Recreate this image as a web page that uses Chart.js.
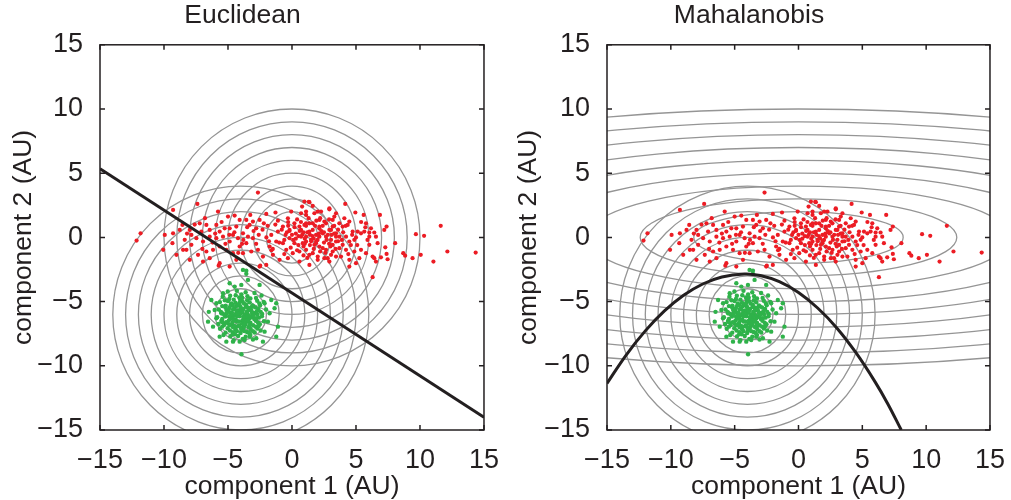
<!DOCTYPE html>
<html>
<head>
<meta charset="utf-8">
<script src="https://cdn.jsdelivr.net/npm/chart.js@4.4.0/dist/chart.umd.min.js"></script>
<style>
body { margin:0; background:#fff; }
#wrap { display:flex; width:1011px; height:500px; }
#wrap div { position:relative; height:500px; }
</style>
</head>
<body>
<div id="wrap">
<div style="width:505px"><canvas id="euclid"></canvas></div>
<div style="width:506px"><canvas id="mahal"></canvas></div>
</div>
<script>
// tick values on both axes
const axisTicks = [-15, -10, -5, 0, 5, 10, 15];

// class 1 (red)
const redPoints = [
[-2.66,3.49],[-7.39,2.61],[-9.29,2.14],[-11.83,0.32],[-12.14,-0.25],[0.97,2.79],[1.36,2.74],[1.62,2.45],[0.79,2.40],[1.10,2.01],
[0.71,1.88],[2.01,2.01],[2.92,2.27],[3.18,1.36],[-1.29,1.94],[-2.01,1.83],[-0.06,2.01],[-0.32,1.49],[-5.78,2.01],[-5.0,1.62],
[-4.48,1.70],[-4.09,1.36],[-3.26,1.75],[-3.57,1.36],[-3.05,1.23],[-2.53,1.36],[-3.31,0.97],[-2.79,0.71],[-8.56,0.97],[-8.77,0.58],
[-7.99,0.58],[-9.29,0.32],[-9.94,0.19],[-8.38,-0.19],[-7.86,0.19],[-7.21,1.10],[-6.69,0.97],[-7.08,0.45],[-6.43,0.58],[-5.91,0.97],
[-5.65,0.45],[-5.26,0.71],[-4.87,0.71],[-4.35,0.84],[-4.61,0.19],[-4.22,-0.06],[-3.83,0.32],[-3.44,0.06],[-3.05,-0.06],[-3.57,-0.45],
[-4.09,-0.71],[-4.87,-0.32],[-5.39,0.06],[-5.91,-0.06],[-6.43,0.06],[-6.95,-0.32],[-7.47,-0.06],[-7.86,-0.58],[-8.51,-0.97],[-9.34,-0.45],
[-10.06,-0.97],[-9.03,-1.36],[-8.25,-0.97],[-6.69,-1.10],[-6.17,-0.97],[-5.65,-0.71],[-5.13,-0.97],[-4.61,-1.23],[-3.83,-1.23],[-3.18,-1.10],
[-2.66,-0.97],[-2.27,-1.49],[-1.75,-0.71],[-1.23,-0.32],[-0.71,-0.45],[-0.19,-0.06],[-1.62,0.19],[-1.10,0.45],[-0.71,0.84],[-0.19,0.58],
[0.19,1.10],[0.58,0.84],[0.97,0.97],[1.36,1.10],[1.62,0.58],[2.14,0.84],[2.66,1.10],[3.05,0.58],[3.44,0.06],[2.14,0.06],
[1.88,-0.45],[1.10,-0.32],[0.71,0.06],[0.19,-0.45],[-0.45,-0.97],[0.06,-1.23],[0.58,-1.10],[1.10,-0.97],[1.62,-1.23],[2.40,-0.84],
[3.18,-0.58],[3.44,-1.49],[2.79,-1.62],[2.01,-1.75],[1.36,-2.14],[0.58,-1.88],[-0.32,-1.62],[-0.97,-1.75],[-1.49,-1.36],[-2.01,-2.14],
[-2.53,-2.27],[-4.35,-1.75],[-4.87,-2.27],[-5.65,-2.01],[-6.43,-1.62],[-6.95,-1.88],[-7.34,-1.36],[-7.99,-1.75],
[11.62,0.90],[12.14,-1.10],[14.35,-1.18],[11.05,-1.88],[10.32,0.12],[9.68,0.25],[10.06,-1.36],[9.42,-1.62],[8.84,-1.42],[8.69,-1.23],
[8.06,-0.45],[7.47,-1.70],[7.39,-1.29],[7.29,-0.77],[7.39,0.84],[7.21,0.58],[6.87,1.75],[6.43,0.38],[6.56,0.06],[6.04,0.06],
[6.04,0.38],[6.17,0.71],[5.73,0.79],[5.65,0.45],[5.78,1.10],[5.60,1.75],[4.95,1.94],[4.16,2.61],[3.44,1.88],[2.92,2.19],
[2.27,2.01],[1.31,2.77],[1.75,1.88],[1.10,1.75],[4.48,1.23],[4.35,0.97],[3.96,0.84],[3.70,1.10],[3.18,0.84],[2.92,0.58],
[3.44,0.32],[3.70,0.06],[4.22,0.06],[4.74,0.45],[5.13,0.45],[5.39,0.32],[4.87,-0.19],[4.48,-0.32],[3.96,-0.58],[3.44,-0.32],
[3.05,-0.19],[2.66,0.06],[2.40,0.32],[2.14,0.71],[1.62,1.10],[1.88,0.19],[1.36,0.45],[1.10,0.06],[1.49,-0.19],[1.75,-0.58],
[2.14,-0.71],[2.66,-0.97],[3.18,-1.10],[3.70,-0.84],[4.22,-0.97],[4.87,-1.10],[5.39,-0.97],[6.04,-0.58],[6.69,-0.45],[6.30,-1.49],
[5.78,-1.23],[5.26,-1.62],[4.48,-1.75],[3.83,-1.49],[3.05,-1.36],[2.53,-1.62],[2.01,-1.49],[1.36,-1.36],[0.84,-0.45],[0.71,0.58],
[6.43,-1.62],[6.56,-1.88],[6.95,-1.55],[4.48,-2.27],[5.0,-2.01],[2.92,-1.88],[2.14,1.36],[2.53,1.23],[3.31,1.62],[1.10,1.10],
[4.09,1.49],[6.3,-3.1],[-5.73,-2.2],[-2.48,-2.2],
[-0.5,0.2],[-0.2,0.5],[0.1,-0.2],[0.3,0.3],[0.5,-0.6],[0.8,0.2],[1.0,-0.1],[1.2,0.4],[1.4,-0.6],[1.6,0.1],
[1.8,0.9],[2.0,-0.2],[2.3,0.5],[2.5,-0.4],[2.8,0.2],[3.0,-0.7],[3.3,0.9],[-1.0,-0.4],[-0.8,0.6],[-1.3,1.0],
[-0.3,1.2],[0.4,1.4],[0.9,-1.4],[1.7,-0.9],[2.2,1.5],[2.6,-1.2],[-1.5,-0.9],[-0.6,-1.3],[0.2,0.8],[0.6,0.5],
[1.1,0.9],[1.5,-0.3],[2.1,0.3],[-0.1,-0.8],[-2.0,0.0],[-2.3,0.6],[-1.8,-0.3],[3.6,-0.3],[4.0,0.4],[4.6,-0.6],
[5.0,0.0],[-3.0,0.5],[-3.8,-0.2],[-4.5,0.4],[-5.2,-0.5],[-6.0,0.3],
[-2.8,-0.5],[-2.2,1.1],[-1.6,-1.0],[-1.1,1.3],[-0.6,-0.2],[-0.3,0.9],[0.0,0.2],[0.4,-1.0],[0.7,1.2],[0.9,-0.7],
[1.2,-1.6],[1.3,1.5],[1.7,-0.1],[1.9,1.3],[2.2,-1.1],[2.4,0.9],[2.7,-0.2],[2.9,1.4],[3.1,0.2],[3.4,-0.9],
[3.6,0.6],[3.9,-0.2],[4.2,0.9],[4.4,-1.3],[4.7,0.2],[5.1,-0.6],[5.4,1.2],[5.9,-0.2],[0.3,-0.1],[0.9,0.4],
[1.4,0.2],[1.9,-0.3],[2.5,0.4],[0.5,0.1],[-0.4,0.4],[1.0,-0.5],[2.9,-0.5],[3.3,0.3],[-1.9,0.9],[-2.6,0.2],
[-3.5,0.8],[-4.2,-1.2],[-5.5,1.2],[-6.2,-0.4],[-7.0,-0.9],[-7.6,1.0],[-8.2,0.3],[-3.9,-0.5],[-4.9,0.2],[-6.8,1.5]
];

// class 2 (green)
const greenPoints = [
[-3.83,-2.53],[-3.57,-2.84],[-4.87,-3.57],[-4.48,-3.83],[-3.96,-3.70],[-2.53,-3.70],[-3.44,-3.31],[-5.39,-4.35],[-6.30,-4.87],[-5.91,-5.13],
[-2.14,-5.13],[-1.62,-4.87],[-1.23,-5.13],[-1.36,-5.52],[-1.75,-5.91],[-1.88,-6.56],[-1.10,-6.95],[-2.14,-7.34],[-2.27,-8.12],[-2.79,-7.86],
[-3.31,-7.73],[-3.70,-7.99],[-4.09,-8.12],[-4.61,-8.12],[-5.13,-8.12],[-3.95,-9.1],[-5.65,-7.73],[-6.17,-6.95],[-5.91,-6.30],[-6.04,-5.65],
[-5.52,-5.91],[-1.23,-7.73],[-6.56,-6.56],[-6.5,-5.8],[-3.57,-2.59],
[-5.02,-4.21],[-4.31,-4.15],[-3.62,-4.27],[-2.93,-4.33],[-5.41,-4.62],[-4.83,-4.55],[-4.12,-4.68],[-3.48,-4.58],[-2.81,-4.71],[-2.38,-4.52],
[-5.63,-5.04],[-5.01,-4.95],[-4.42,-5.08],[-3.87,-4.97],[-3.31,-5.06],[-2.72,-4.93],[-2.21,-5.02],[-5.18,-5.31],[-4.63,-5.27],[-4.05,-5.36],
[-3.58,-5.24],[-3.02,-5.38],[-2.49,-5.29],[-5.72,-5.61],[-5.12,-5.66],[-4.51,-5.55],[-4.18,-5.68],[-3.79,-5.58],[-3.21,-5.64],[-2.62,-5.57],
[-2.03,-5.62],[-5.43,-5.92],[-4.81,-5.88],[-4.39,-5.97],[-3.92,-5.86],[-3.48,-5.95],[-2.91,-5.89],[-2.33,-5.96],[-5.84,-6.21],[-5.21,-6.17],
[-4.62,-6.26],[-4.09,-6.14],[-3.68,-6.23],[-3.12,-6.18],[-2.58,-6.25],[-5.52,-6.51],[-4.93,-6.46],[-4.31,-6.55],[-3.88,-6.48],[-3.41,-6.57],
[-2.83,-6.49],[-2.19,-6.53],[-5.31,-6.82],[-4.72,-6.77],[-4.11,-6.86],[-3.63,-6.79],[-3.04,-6.84],[-2.51,-6.76],[-5.62,-7.12],[-5.03,-7.08],
[-4.41,-7.15],[-3.82,-7.06],[-3.23,-7.13],[-2.71,-7.09],[-5.19,-7.42],[-4.61,-7.38],[-4.02,-7.45],[-3.51,-7.37],[-2.92,-7.41],[-4.82,-7.71],
[-4.21,-7.68],[-3.62,-7.74],[-4.2,-5.8],[-3.7,-6.0],[-4.4,-6.4],[-3.9,-6.7],[-4.7,-6.0],[-3.3,-6.3],[-4.0,-5.5],[-4.5,-6.9],
[-3.6,-5.4],[-4.9,-5.5],[-3.1,-5.9],[-4.3,-7.3],[-3.4,-7.0],[-5.0,-6.7],[-2.7,-6.0],[-4.8,-6.3],[-3.8,-6.4],[-4.1,-5.1],
[-3.5,-4.9],[-5.3,-6.0],[-4.55,-4.85],[-3.95,-4.45],[-3.25,-4.75],[-5.25,-4.9],[-2.55,-5.15],[-4.75,-5.15],[-3.45,-5.45],[-2.85,-5.45],
[-5.45,-5.35],[-4.35,-5.35],[-3.15,-5.75],[-2.45,-5.8],[-5.55,-5.8],[-4.95,-5.75],[-4.05,-5.95],[-3.35,-6.1],[-2.35,-6.15],[-5.45,-6.35],
[-4.45,-6.05],[-3.55,-6.35],[-2.95,-6.35],[-5.15,-6.6],[-4.65,-6.65],[-3.25,-6.65],[-2.65,-6.65],[-5.45,-6.95],[-4.35,-6.95],[-3.75,-6.95],
[-2.85,-6.95],[-4.85,-7.25],[-3.95,-7.25],[-3.05,-7.3],[-2.45,-7.25],[-5.35,-7.6],[-4.45,-7.55],[-3.25,-7.6],[-3.85,-7.9],[-4.55,-8.0],
[-3.05,-7.95],[-5.75,-6.75],
[-4.25,-5.25],[-3.75,-5.15],[-4.6,-5.6],[-3.4,-5.65],[-4.3,-6.15],[-3.6,-6.15],[-4.15,-6.55],[-3.65,-6.6],[-4.9,-6.15],[-3.0,-6.05],
[-4.6,-7.0],[-3.3,-6.85],[-4.8,-5.3],[-3.1,-5.3],[-5.1,-5.95],[-2.8,-6.3],[-4.0,-7.05],[-4.05,-4.85],[-3.7,-7.3],[-4.4,-4.5],
[-3.9,-5.75],[-4.25,-5.95],[-3.8,-6.2],[-4.55,-6.45],[-3.45,-6.45],[-4.15,-6.9],[-3.25,-5.5],[-4.7,-5.85],[-3.55,-5.8],[-4.85,-6.85],
[-5.2,-5.45],[-2.75,-5.75],[-3.9,-4.7],[-4.65,-7.55],[-3.35,-7.45],[-2.6,-6.9],[-5.45,-6.6],[-4.35,-5.7],[-3.75,-6.8],[-4.9,-4.8]
];

// contour radii (data units) and centres
const circleRadii = [2, 3, 4, 5, 6, 7, 8, 9, 10];
const redCenter = [0, 0];
const greenCenter = [-4, -6];
const ellipseRy = [2, 3, 4, 5, 6, 7, 8, 9, 10];
const ellipseRx = [8.2, 12.4, 16.6, 21, 25.3, 29.6, 34, 38.5, 43];

// decision boundaries
const euclidLineX = [-15, 15];
const euclidLineY = [5.35, -14.0];
const mahalCurveX = [-15, -13.5, -12, -10.5, -9, -7.5, -6, -4.25, -3, -1.5, 0, 1.5, 3, 4.5, 6, 7, 8.05];
const mahalCurveY = [-11.37, -9.16, -7.28, -5.73, -4.51, -3.63, -3.08, -2.85, -2.97, -3.45, -4.29, -5.5, -7.05, -8.98, -11.25, -12.97, -15];

const ink = '#231f20';
Chart.defaults.font.family = '"Liberation Sans", Arial, sans-serif';
Chart.defaults.color = ink;

const contourPlugin = {
  id: 'contours',
  beforeDatasetsDraw(chart, args, opts) {
    const ctx = chart.ctx, a = chart.chartArea, x = chart.scales.x, y = chart.scales.y;
    ctx.save();
    ctx.beginPath();
    ctx.rect(a.left, a.top, a.right - a.left, a.bottom - a.top);
    ctx.clip();
    ctx.strokeStyle = '#959595';
    ctx.lineWidth = 1.3;
    opts.shapes.forEach(s => {
      const cx = x.getPixelForValue(s.c[0]), cy = y.getPixelForValue(s.c[1]);
      s.rx.forEach((r, i) => {
        const px = Math.abs(x.getPixelForValue(s.c[0] + r) - cx);
        const py = Math.abs(y.getPixelForValue(s.c[1] + s.ry[i]) - cy);
        ctx.beginPath();
        ctx.ellipse(cx, cy, px, py, 0, 0, Math.PI * 2);
        ctx.stroke();
      });
    });
    ctx.restore();
  },
  afterDraw(chart) {
    const ctx = chart.ctx, a = chart.chartArea, x = chart.scales.x, y = chart.scales.y;
    ctx.save();
    ctx.strokeStyle = ink;
    ctx.lineWidth = 1.5;
    ctx.strokeRect(a.left, a.top, a.right - a.left, a.bottom - a.top);
    ctx.beginPath();
    axisTicks.forEach(v => {
      const px = x.getPixelForValue(v), py = y.getPixelForValue(v);
      ctx.moveTo(px, a.bottom); ctx.lineTo(px, a.bottom - 5);
      ctx.moveTo(px, a.top); ctx.lineTo(px, a.top + 5);
      ctx.moveTo(a.left, py); ctx.lineTo(a.left + 5, py);
      ctx.moveTo(a.right, py); ctx.lineTo(a.right - 5, py);
    });
    ctx.stroke();
    ctx.restore();
  }
};

function axis(which, title, yWidth) {
  return {
    type: 'linear', min: -15, max: 15,
    afterBuildTicks: s => { s.ticks = axisTicks.map(v => ({ value: v })); },
    afterFit: s => { if (which === 'x') s.height = 70; else s.width = yWidth; },
    grid: { display: false },
    border: { display: false },
    ticks: {
      font: { size: 27 }, color: ink, padding: which === 'x' ? 6 : 9,
      callback: v => String(v).replace('-', '\u2212')
    },
    title: {
      display: true, text: title, color: ink, font: { size: 26.5, lineHeight: 1 },
      padding: which === 'x' ? { top: 0, bottom: 0 } : { top: 10, bottom: 0 }
    }
  };
}

function makeChart(id, name, lineX, lineY, shapes, yWidth, rightPad) {
  new Chart(document.getElementById(id), {
    type: 'scatter',
    data: {
      datasets: [
        {
          data: lineX.map((v, i) => ({ x: v, y: lineY[i] })),
          showLine: true, borderColor: ink, borderWidth: 3, pointRadius: 0,
          tension: lineX.length > 2 ? 0.4 : 0
        },
        {
          data: redPoints.map(p => ({ x: p[0], y: p[1] })),
          backgroundColor: '#ec1c24', borderWidth: 0, pointRadius: 2.1
        },
        {
          data: greenPoints.map(p => ({ x: p[0], y: p[1] })),
          backgroundColor: '#2fb24a', borderWidth: 0, pointRadius: 2.2
        }
      ]
    },
    options: {
      responsive: true, maintainAspectRatio: false, animation: false,
      layout: { padding: { left: 0, right: rightPad, top: 0, bottom: 0 } },
      scales: { x: axis('x', 'component 1 (AU)'), y: axis('y', 'component 2 (AU)', yWidth) },
      plugins: {
        legend: { display: false },
        tooltip: { enabled: false },
        title: {
          display: true, text: name, color: ink,
          font: { size: 26.5, weight: 'normal' }, padding: { top: 0, bottom: 13 }
        },
        contours: { shapes: shapes }
      }
    },
    plugins: [contourPlugin]
  });
}

makeChart('euclid', 'Euclidean', euclidLineX, euclidLineY, [
  { c: redCenter, rx: circleRadii, ry: circleRadii },
  { c: greenCenter, rx: circleRadii, ry: circleRadii }
], 100, 20);

makeChart('mahal', 'Mahalanobis', mahalCurveX, mahalCurveY, [
  { c: redCenter, rx: ellipseRx, ry: ellipseRy },
  { c: greenCenter, rx: circleRadii, ry: circleRadii }
], 102, 18);
</script>
</body>
</html>
